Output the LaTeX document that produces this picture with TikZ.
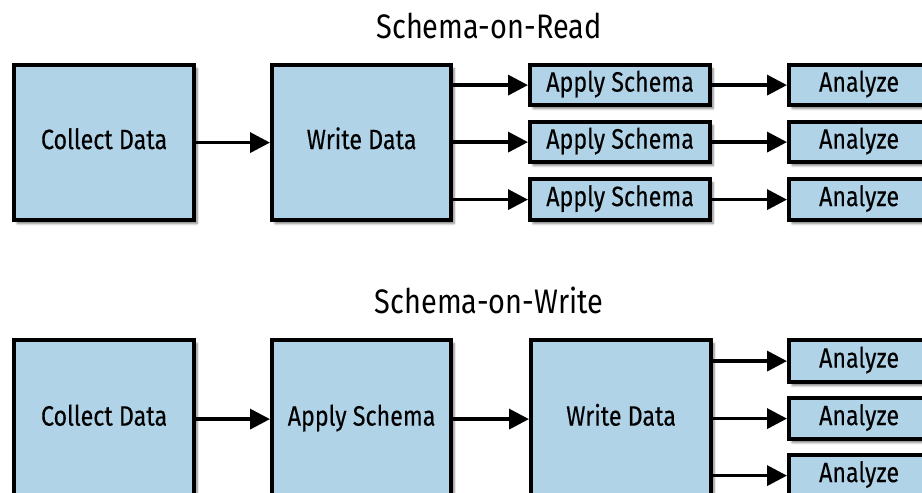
\documentclass[tikz,border=0pt]{standalone}
\usepackage{fontspec}
\setmainfont[FakeStretch=0.85]{Fira Sans}
\newfontfamily\boxfont[FakeStretch=0.83,FakeBold=0.25]{Fira Sans}
\usetikzlibrary{arrows.meta,shadows.blur}
\definecolor{boxblue}{RGB}{176,211,232}
\tikzset{
  stage/.style={draw=black, line width=4.2pt, fill=boxblue, anchor=north west,
    inner sep=0pt, text height=13pt, text depth=0pt,
    font=\boxfont\fontsize{28}{30}\selectfont,
    blur shadow={shadow xshift=3pt, shadow yshift=-3.5pt, shadow blur steps=6, shadow opacity=50}},
  flow/.style={line width=3.6pt, -{Triangle[length=20pt,width=20pt]}},
  heading/.style={font=\fontsize{34}{38}\selectfont}
}
\begin{document}
\begin{tikzpicture}[x=1pt,y=-1pt]
\useasboundingbox (0,0) rectangle (922,493);
\clip (0,0) rectangle (922,493);

% Schema-on-Read
\node[heading] (tR) at (489,26) {Schema-on-Read};
\node[stage, minimum width=180, minimum height=155] (cdR) at (12,63) {Collect Data};
\node[stage, minimum width=179, minimum height=155] (wdR) at (270,63) {Write Data};
\node[stage, minimum width=180, minimum height=40] (asR1) at (528,63) {Apply Schema};
\node[stage, minimum width=180, minimum height=40] (asR2) at (528,120) {Apply Schema};
\node[stage, minimum width=180, minimum height=41] (asR3) at (528,177) {Apply Schema};
\node[stage, minimum width=140, minimum height=40] (anR1) at (787,63) {Analyze};
\node[stage, minimum width=140, minimum height=40] (anR2) at (787,120) {Analyze};
\node[stage, minimum width=140, minimum height=41] (anR3) at (787,177) {Analyze};

\draw[flow] (cdR) -- (wdR);
\foreach \i in {1,2,3}{
  \draw[flow] (wdR.east |- asR\i.west) -- (asR\i.west);
  \draw[flow] (asR\i) -- (anR\i);
}

% Schema-on-Write
\node[heading] (tW) at (489,300) {Schema-on-Write};
\node[stage, minimum width=180, minimum height=158] (cdW) at (12,338) {Collect Data};
\node[stage, minimum width=179, minimum height=158] (asW) at (270,338) {Apply Schema};
\node[stage, minimum width=180, minimum height=158] (wdW) at (529,338) {Write Data};
\node[stage, minimum width=140, minimum height=42] (anW1) at (787,338) {Analyze};
\node[stage, minimum width=140, minimum height=41] (anW2) at (787,396) {Analyze};
\node[stage, minimum width=140, minimum height=41] (anW3) at (787,453) {Analyze};

\draw[flow] (cdW) -- (asW);
\draw[flow] (asW) -- (wdW);
\foreach \i in {1,2,3}{
  \draw[flow] (wdW.east |- anW\i.west) -- (anW\i.west);
}
\end{tikzpicture}
\end{document}
